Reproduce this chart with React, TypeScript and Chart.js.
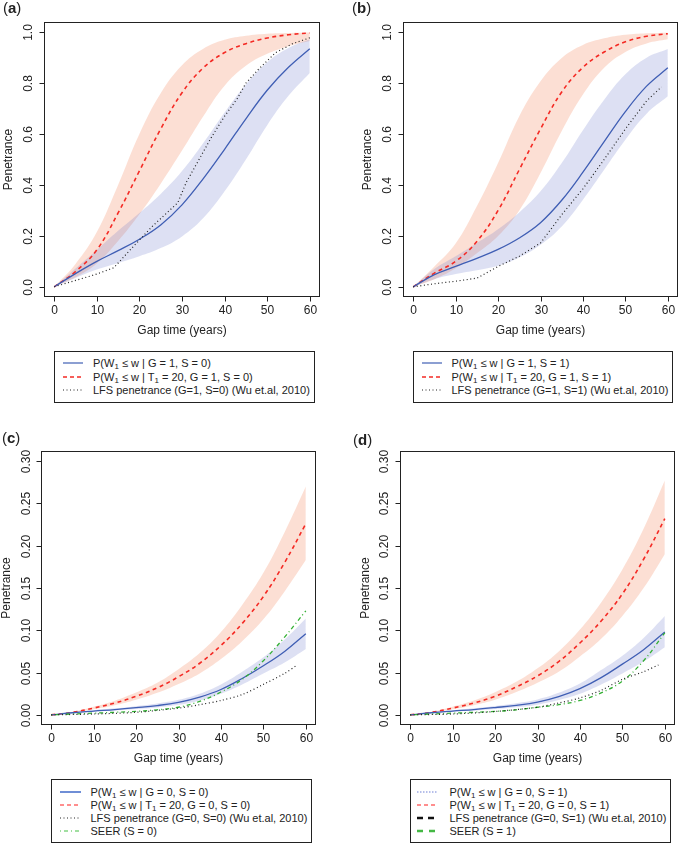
import React, { useEffect, useRef } from "react";
import { Chart, registerables } from "chart.js";

Chart.register(...registerables);

// ---------- data ----------
const GAP = [0, 5, 10, 15, 20, 25, 30, 35, 40, 45, 50, 55, 60];
const X_TICKS = [0, 10, 20, 30, 40, 50, 60];
const Y_TICKS_AB = [0, 0.2, 0.4, 0.6, 0.8, 1.0];
const Y_TICKS_CD = [0, 0.05, 0.1, 0.15, 0.2, 0.25, 0.3];

// panel (a)  G=1, S=0
const A_BLUE = [0, 0.052, 0.1, 0.142, 0.187, 0.243, 0.322, 0.425, 0.54, 0.66, 0.772, 0.862, 0.935];
const A_BLUE_LO = [0, 0.035, 0.068, 0.094, 0.12, 0.152, 0.198, 0.27, 0.375, 0.5, 0.635, 0.75, 0.84];
const A_BLUE_HI = [0, 0.072, 0.145, 0.22, 0.29, 0.365, 0.455, 0.565, 0.685, 0.795, 0.882, 0.938, 0.972];
const A_RED = [0, 0.06, 0.145, 0.29, 0.455, 0.62, 0.762, 0.86, 0.92, 0.955, 0.977, 0.99, 0.997];
const A_RED_LO = [0, 0.038, 0.092, 0.18, 0.285, 0.405, 0.535, 0.67, 0.79, 0.868, 0.915, 0.945, 0.965];
const A_RED_HI = [0, 0.09, 0.215, 0.4, 0.6, 0.76, 0.87, 0.935, 0.97, 0.986, 0.994, 0.997, 0.999];
const A_LFS_X = [0, 5, 10, 14, 18, 23, 29, 31, 34, 37, 40, 43, 45, 48, 52, 56, 60];
const A_LFS = [0, 0.025, 0.05, 0.075, 0.148, 0.237, 0.33, 0.41, 0.5, 0.59, 0.67, 0.74, 0.8, 0.855, 0.92, 0.955, 0.978];

// panel (b)  G=1, S=1
const B_BLUE = [0, 0.048, 0.08, 0.112, 0.147, 0.192, 0.252, 0.34, 0.45, 0.57, 0.688, 0.788, 0.86];
const B_BLUE_LO = [0, 0.03, 0.05, 0.065, 0.083, 0.115, 0.165, 0.237, 0.342, 0.46, 0.578, 0.68, 0.748];
const B_BLUE_HI = [0, 0.07, 0.12, 0.172, 0.226, 0.292, 0.375, 0.486, 0.615, 0.735, 0.835, 0.9, 0.934];
const B_RED = [0, 0.054, 0.1, 0.178, 0.3, 0.46, 0.62, 0.765, 0.862, 0.922, 0.962, 0.984, 0.994];
const B_RED_LO = [0, 0.03, 0.073, 0.132, 0.2, 0.3, 0.447, 0.612, 0.755, 0.86, 0.922, 0.956, 0.972];
const B_RED_HI = [0, 0.08, 0.17, 0.316, 0.486, 0.67, 0.807, 0.899, 0.95, 0.976, 0.99, 0.996, 0.998];
const B_LFS_X = [0, 5, 10, 15, 20, 25, 30, 35, 40, 45, 50, 55, 58.5];
const B_LFS = [0, 0.012, 0.022, 0.034, 0.08, 0.12, 0.172, 0.283, 0.385, 0.5, 0.62, 0.73, 0.785];

// panel (c)  G=0, S=0
const C_BLUE = [0, 0.0025, 0.0045, 0.0063, 0.0085, 0.011, 0.0148, 0.021, 0.03, 0.043, 0.058, 0.075, 0.096];
const C_BLUE_LO = [0, 0.002, 0.0037, 0.005, 0.0068, 0.0088, 0.0118, 0.017, 0.025, 0.036, 0.049, 0.062, 0.078];
const C_BLUE_HI = [0, 0.003, 0.0055, 0.0077, 0.0103, 0.0135, 0.0178, 0.025, 0.036, 0.051, 0.068, 0.089, 0.114];
const C_RED = [0, 0.003, 0.008, 0.014, 0.022, 0.032, 0.045, 0.061, 0.082, 0.108, 0.14, 0.18, 0.226];
const C_RED_LO = [0, 0.0024, 0.0065, 0.0113, 0.0178, 0.026, 0.0365, 0.049, 0.066, 0.087, 0.113, 0.146, 0.183];
const C_RED_HI = [0, 0.0036, 0.0096, 0.0168, 0.0264, 0.038, 0.054, 0.073, 0.098, 0.13, 0.168, 0.216, 0.27];
const C_SEER = [0, 0.001, 0.002, 0.003, 0.004, 0.006, 0.009, 0.016, 0.027, 0.042, 0.064, 0.092, 0.123];
const C_LFS_X = [0, 10, 20, 30, 35, 40, 45, 50, 55, 58];
const C_LFS = [0, 0.001, 0.003, 0.008, 0.012, 0.017, 0.024, 0.036, 0.049, 0.059];

// panel (d)  G=0, S=1
const D_BLUE = [0, 0.0025, 0.0045, 0.0063, 0.0086, 0.0112, 0.015, 0.0215, 0.031, 0.044, 0.06, 0.077, 0.098];
const D_BLUE_LO = [0, 0.002, 0.0037, 0.005, 0.0069, 0.009, 0.012, 0.0175, 0.025, 0.036, 0.049, 0.063, 0.08];
const D_BLUE_HI = [0, 0.003, 0.0055, 0.0078, 0.0105, 0.0138, 0.0182, 0.026, 0.037, 0.053, 0.07, 0.091, 0.117];
const D_RED = [0, 0.003, 0.008, 0.014, 0.022, 0.033, 0.046, 0.063, 0.085, 0.111, 0.143, 0.184, 0.232];
const D_RED_LO = [0, 0.0024, 0.0066, 0.0115, 0.018, 0.027, 0.038, 0.051, 0.069, 0.09, 0.117, 0.15, 0.19];
const D_RED_HI = [0, 0.0036, 0.0097, 0.017, 0.0268, 0.039, 0.055, 0.075, 0.101, 0.133, 0.172, 0.22, 0.277];
const D_SEER = [0, 0.001, 0.002, 0.003, 0.004, 0.006, 0.009, 0.012, 0.017, 0.026, 0.04, 0.064, 0.097];
const D_LFS_X = [0, 10, 20, 30, 35, 40, 45, 50, 55, 58.5];
const D_LFS = [0, 0.001, 0.004, 0.009, 0.014, 0.02, 0.029, 0.042, 0.051, 0.059];

const LEGEND_A = ["P(W₁ ≤ w | G = 1, S = 0)", "P(W₁ ≤ w | T₁ = 20, G = 1, S = 0)", "LFS penetrance (G=1, S=0) (Wu et.al, 2010)"];
const LEGEND_B = ["P(W₁ ≤ w | G = 1, S = 1)", "P(W₁ ≤ w | T₁ = 20, G = 1, S = 1)", "LFS penetrance (G=1, S=1) (Wu et.al, 2010)"];
const LEGEND_C = ["P(W₁ ≤ w | G = 0, S = 0)", "P(W₁ ≤ w | T₁ = 20, G = 0, S = 0)", "LFS penetrance (G=0, S=0) (Wu et.al, 2010)", "SEER (S = 0)"];
const LEGEND_D = ["P(W₁ ≤ w | G = 0, S = 1)", "P(W₁ ≤ w | T₁ = 20, G = 0, S = 1)", "LFS penetrance (G=0, S=1) (Wu et.al, 2010)", "SEER (S = 1)"];

// ---------- styles ----------
const FONT = '"Liberation Sans", Arial, Helvetica, sans-serif';
const BLUE = "#3f5eb4";
const RED = "#f42a24";
const GREEN = "#33b033";
const BLACK = "#222222";
const BLUE_BAND = "rgba(100,115,200,0.22)";
const RED_BAND = "rgba(245,140,100,0.28)";

const pts = (xs: number[], ys: number[]) => xs.map((x, i) => ({ x, y: ys[i] }));

function band(lo: number[], hi: number[], color: string) {
  const common = {
    borderColor: "rgba(0,0,0,0)",
    borderWidth: 0,
    pointRadius: 0,
    tension: 0.4,
  };
  return [
    { ...common, data: pts(GAP, hi), fill: "+1", backgroundColor: color },
    { ...common, data: pts(GAP, lo), fill: false },
  ];
}

function line(xs: number[], ys: number[], color: string, width: number, dash: number[], tension: number) {
  return {
    data: pts(xs, ys),
    borderColor: color,
    borderWidth: width,
    borderDash: dash,
    pointRadius: 0,
    fill: false,
    tension,
  };
}

function makeAxes(cfg: { yTicks: number[]; yDec: number; yLabelOff: number; yTitleOff: number }) {
  return {
    id: "rAxes",
    afterDraw(chart: any) {
      const { ctx, chartArea: ca, scales } = chart;
      const xs = scales.x;
      const ys = scales.y;
      ctx.save();
      ctx.strokeStyle = BLACK;
      ctx.fillStyle = BLACK;
      ctx.lineWidth = 1;
      const L = Math.round(ca.left) + 0.5;
      const T = Math.round(ca.top) + 0.5;
      const R = Math.round(ca.right) - 0.5;
      const B = Math.round(ca.bottom) - 0.5;
      ctx.strokeRect(L, T, R - L, B - T);
      ctx.font = `12px ${FONT}`;
      ctx.textAlign = "center";
      ctx.textBaseline = "middle";
      for (const v of X_TICKS) {
        const p = Math.round(xs.getPixelForValue(v)) + 0.5;
        ctx.beginPath();
        ctx.moveTo(p, B);
        ctx.lineTo(p, B + 5);
        ctx.stroke();
        ctx.fillText(String(v), p, B + 14);
      }
      for (const v of cfg.yTicks) {
        const p = Math.round(ys.getPixelForValue(v)) + 0.5;
        ctx.beginPath();
        ctx.moveTo(L - 5, p);
        ctx.lineTo(L, p);
        ctx.stroke();
        ctx.save();
        ctx.translate(L - cfg.yLabelOff, p);
        ctx.rotate(-Math.PI / 2);
        ctx.fillText(v.toFixed(cfg.yDec), 0, 0);
        ctx.restore();
      }
      ctx.fillText("Gap time (years)", (ca.left + ca.right) / 2, B + 34);
      ctx.save();
      ctx.translate(L - cfg.yTitleOff, (T + B) / 2);
      ctx.rotate(-Math.PI / 2);
      ctx.fillText("Penetrance", 0, 0);
      ctx.restore();
      ctx.restore();
    },
  };
}

type PanelProps = {
  left: number;
  top: number;
  width: number;
  height: number;
  padding: { left: number; right: number; top: number; bottom: number };
  yMin: number;
  yMax: number;
  yTicks: number[];
  yDec: number;
  yLabelOff: number;
  yTitleOff: number;
  datasets: any[];
};

function Panel(p: PanelProps) {
  const ref = useRef<HTMLCanvasElement | null>(null);
  useEffect(() => {
    if (!ref.current) return;
    const chart = new Chart(ref.current, {
      type: "line",
      data: { datasets: p.datasets },
      options: {
        animation: false,
        responsive: false,
        maintainAspectRatio: false,
        devicePixelRatio: 1,
        layout: { padding: p.padding },
        scales: {
          x: { type: "linear", min: -2.4, max: 62.4, display: false },
          y: { type: "linear", min: p.yMin, max: p.yMax, display: false },
        },
        plugins: { legend: { display: false }, tooltip: { enabled: false } },
        elements: { point: { radius: 0 } },
      } as any,
      plugins: [makeAxes({ yTicks: p.yTicks, yDec: p.yDec, yLabelOff: p.yLabelOff, yTitleOff: p.yTitleOff })],
    });
    return () => chart.destroy();
  }, []);
  return (
    <canvas
      ref={ref}
      width={p.width}
      height={p.height}
      style={{ position: "absolute", left: p.left, top: p.top, width: p.width, height: p.height }}
    />
  );
}

type Sample = { color: string; width: number; dash: string };

function LegendText({ text }: { text: string }) {
  const parts = text.split("₁");
  return (
    <span>
      {parts.map((s, i) => (
        <React.Fragment key={i}>
          {s}
          {i < parts.length - 1 && (
            <sub style={{ fontSize: 8, lineHeight: 0, verticalAlign: "-2px" }}>1</sub>
          )}
        </React.Fragment>
      ))}
    </span>
  );
}

function Legend(props: {
  left: number;
  top: number;
  width: number;
  height: number;
  rowTop: number;
  rowStep: number;
  sampleX: number;
  sampleW: number;
  textX: number;
  labels: string[];
  samples: Sample[];
}) {
  return (
    <div
      style={{
        position: "absolute",
        left: props.left,
        top: props.top,
        width: props.width,
        height: props.height,
        border: `1px solid ${BLACK}`,
        boxSizing: "border-box",
        fontFamily: FONT,
        fontSize: 11,
        color: BLACK,
      }}
    >
      {props.labels.map((lab, i) => {
        const cy = props.rowTop + i * props.rowStep - 1;
        const s = props.samples[i];
        return (
          <React.Fragment key={i}>
            <svg
              width={props.sampleW}
              height={8}
              style={{ position: "absolute", left: props.sampleX - 1, top: cy - 4 }}
            >
              <line x1={0} y1={4} x2={props.sampleW} y2={4} stroke={s.color} strokeWidth={s.width} strokeDasharray={s.dash} />
            </svg>
            <div
              style={{
                position: "absolute",
                left: props.textX - 1,
                top: cy - 7,
                height: 14,
                lineHeight: "14px",
                whiteSpace: "nowrap",
              }}
            >
              <LegendText text={lab} />
            </div>
          </React.Fragment>
        );
      })}
    </div>
  );
}

function PanelLabel({ left, top, letter }: { left: number; top: number; letter: string }) {
  return (
    <div
      style={{
        position: "absolute",
        left,
        top,
        fontFamily: FONT,
        fontSize: 15,
        lineHeight: "16px",
        color: BLACK,
        whiteSpace: "nowrap",
      }}
    >
      (<b>{letter}</b>)
    </div>
  );
}

export default function App() {
  const dsA = [
    line(A_LFS_X, A_LFS, BLACK, 1.2, [1, 2.6], 0),
    line(GAP, A_BLUE, BLUE, 1.3, [], 0.4),
    line(GAP, A_RED, RED, 1.6, [4, 3.5], 0.4),
    ...band(A_BLUE_LO, A_BLUE_HI, BLUE_BAND),
    ...band(A_RED_LO, A_RED_HI, RED_BAND),
  ];
  const dsB = [
    line(B_LFS_X, B_LFS, BLACK, 1.2, [1, 2.6], 0),
    line(GAP, B_BLUE, BLUE, 1.3, [], 0.4),
    line(GAP, B_RED, RED, 1.6, [4, 3.5], 0.4),
    ...band(B_BLUE_LO, B_BLUE_HI, BLUE_BAND),
    ...band(B_RED_LO, B_RED_HI, RED_BAND),
  ];
  const dsC = [
    line(C_LFS_X, C_LFS, BLACK, 1.2, [1, 2.6], 0.3),
    line(GAP, C_SEER, GREEN, 1.3, [1, 3, 4, 3], 0.4),
    line(GAP, C_BLUE, BLUE, 1.3, [], 0.4),
    line(GAP, C_RED, RED, 1.6, [4, 3.5], 0.4),
    ...band(C_BLUE_LO, C_BLUE_HI, BLUE_BAND),
    ...band(C_RED_LO, C_RED_HI, RED_BAND),
  ];
  const dsD = [
    line(D_LFS_X, D_LFS, BLACK, 1.2, [1, 2.6], 0.3),
    line(GAP, D_SEER, GREEN, 1.3, [1, 3, 4, 3], 0.4),
    line(GAP, D_BLUE, BLUE, 1.3, [], 0.4),
    line(GAP, D_RED, RED, 1.6, [4, 3.5], 0.4),
    ...band(D_BLUE_LO, D_BLUE_HI, BLUE_BAND),
    ...band(D_RED_LO, D_RED_HI, RED_BAND),
  ];

  const samplesAB: Sample[] = [
    { color: BLUE, width: 1.2, dash: "" },
    { color: RED, width: 1.3, dash: "4 3" },
    { color: BLACK, width: 1, dash: "1 2.5" },
  ];
  const samplesC: Sample[] = [
    { color: "#6f8ed6", width: 2, dash: "" },
    { color: "#ff6a6a", width: 1.5, dash: "4 3" },
    { color: BLACK, width: 1, dash: "1 2.5" },
    { color: "#44c044", width: 1.2, dash: "1 3 4 3" },
  ];
  const samplesD: Sample[] = [
    { color: "#6f80d6", width: 1.2, dash: "1.5 1.5" },
    { color: "#ff6a6a", width: 1.5, dash: "4 3" },
    { color: "#111", width: 2.5, dash: "6 5" },
    { color: "#44b844", width: 2.5, dash: "6 6" },
  ];

  return (
    <div
      style={{
        position: "absolute",
        left: 0,
        top: 0,
        width: 679,
        height: 844,
        background: "#fff",
        overflow: "hidden",
      }}
    >
      <Panel
        left={0}
        top={0}
        width={340}
        height={345}
        padding={{ left: 44, right: 20, top: 22, bottom: 48 }}
        yMin={-0.04}
        yMax={1.04}
        yTicks={Y_TICKS_AB}
        yDec={1}
        yLabelOff={15.5}
        yTitleOff={36}
        datasets={dsA}
      />
      <Panel
        left={340}
        top={0}
        width={339}
        height={345}
        padding={{ left: 63, right: 1, top: 22, bottom: 48 }}
        yMin={-0.04}
        yMax={1.04}
        yTicks={Y_TICKS_AB}
        yDec={1}
        yLabelOff={15.5}
        yTitleOff={36}
        datasets={dsB}
      />
      <Panel
        left={0}
        top={420}
        width={340}
        height={355}
        padding={{ left: 41, right: 24, top: 31, bottom: 50 }}
        yMin={-0.012}
        yMax={0.312}
        yTicks={Y_TICKS_CD}
        yDec={2}
        yLabelOff={14.5}
        yTitleOff={35}
        datasets={dsC}
      />
      <Panel
        left={340}
        top={420}
        width={339}
        height={355}
        padding={{ left: 60, right: 4, top: 31, bottom: 50 }}
        yMin={-0.012}
        yMax={0.312}
        yTicks={Y_TICKS_CD}
        yDec={2}
        yLabelOff={15.5}
        yTitleOff={35}
        datasets={dsD}
      />
      <PanelLabel left={3} top={0} letter="a" />
      <PanelLabel left={352} top={0} letter="b" />
      <PanelLabel left={2} top={430} letter="c" />
      <PanelLabel left={353} top={432} letter="d" />
      <Legend left={54} top={351} width={261} height={52} rowTop={12} rowStep={13.5} sampleX={9} sampleW={20} textX={39} labels={LEGEND_A} samples={samplesAB} />
      <Legend left={413} top={351} width={260} height={52} rowTop={12} rowStep={13.5} sampleX={9} sampleW={20} textX={38.5} labels={LEGEND_B} samples={samplesAB} />
      <Legend left={51} top={779} width={261} height={64} rowTop={12.5} rowStep={13.2} sampleX={9} sampleW={21} textX={39.5} labels={LEGEND_C} samples={samplesC} />
      <Legend left={410} top={779} width={261} height={64} rowTop={12.5} rowStep={13.2} sampleX={7} sampleW={21} textX={39.5} labels={LEGEND_D} samples={samplesD} />
    </div>
  );
}
